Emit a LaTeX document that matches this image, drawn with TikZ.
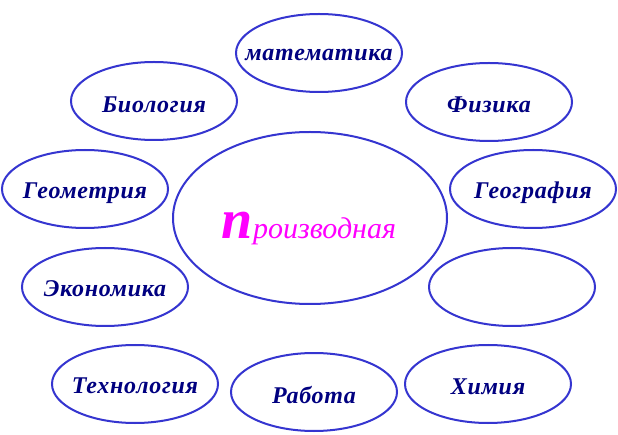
\documentclass[tikz,border=0pt]{standalone}
\usepackage{fontspec}
\setmainfont{Liberation Serif}
\usetikzlibrary{shapes.geometric}
\definecolor{ovalblue}{HTML}{3535D0}
\definecolor{navytext}{HTML}{000080}
\definecolor{pink}{HTML}{FF00FF}
\begin{document}
\begin{tikzpicture}[x=1pt,y=-1pt,
  oval/.style={ellipse, draw=ovalblue, line width=2pt, minimum width=166pt, minimum height=78pt, inner sep=0pt},
  subj/.style={font=\fontsize{24}{26}\selectfont\bfseries\itshape\addfontfeature{LetterSpace=3}, text=navytext, inner sep=0pt}]
\useasboundingbox[fill=white] (0,0) rectangle (618,435);
\node[oval, minimum width=274pt, minimum height=172pt] (main) at (310,218) {};
\node[text=pink, inner sep=0pt, anchor=base] (main-t) at (309,239) {\bfseries\itshape\fontsize{56}{56}\selectfont п\fontsize{30}{30}\selectfont\mdseries роизводная};
\node[oval] (mat) at (319,53) {};
\node[subj, anchor=base] (mat-t) at (319,61) {математика};
\node[oval] (bio) at (154,101) {};
\node[subj, anchor=base] (bio-t) at (154,113) {Биология};
\node[oval] (fiz) at (489,102) {};
\node[subj, anchor=base] (fiz-t) at (489,113) {Физика};
\node[oval] (geom) at (85,189) {};
\node[subj, anchor=base] (geom-t) at (85,199) {Геометрия};
\node[oval] (geog) at (533,189) {};
\node[subj, anchor=base] (geog-t) at (533,199) {География};
\node[oval] (eco) at (105,287) {};
\node[subj, anchor=base] (eco-t) at (105,297) {Экономика};
\node[oval] (empty) at (512,287) {};
\node[oval] (tech) at (135,384) {};
\node[subj, anchor=base] (tech-t) at (135,393) {Технология};
\node[oval] (rab) at (314,392) {};
\node[subj, anchor=base] (rab-t) at (314,403) {Работа};
\node[oval] (him) at (488,384) {};
\node[subj, anchor=base] (him-t) at (488,394) {Химия};
\end{tikzpicture}
\end{document}
